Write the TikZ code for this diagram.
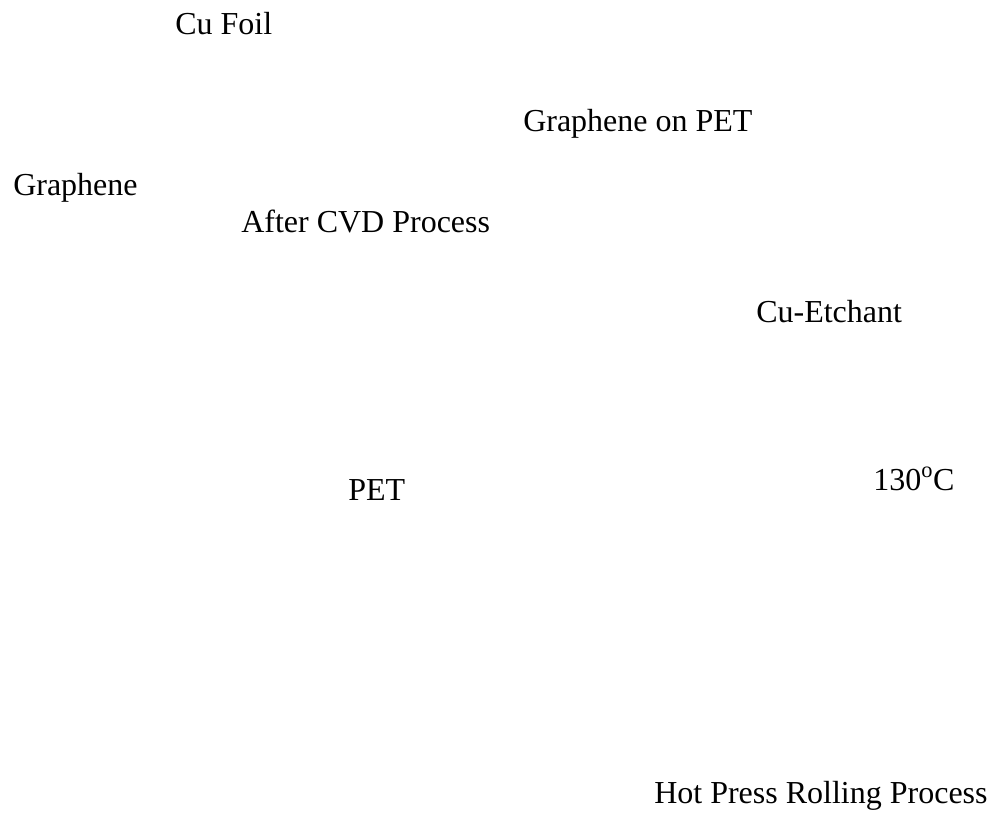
\documentclass[tikz,border=0pt]{standalone}
\usepackage{fontspec}
\setmainfont{Liberation Serif}
\usepackage{tikz}
\tikzstyle{lbl} = [anchor=base west, inner sep=0pt, font=\fontsize{24}{28}\selectfont]

\begin{document}
\begin{tikzpicture}[x=0.75pt,y=-0.75pt]
\useasboundingbox (0,0) rectangle (997,813);
\node [lbl] (cu-foil) at (175,35) {Cu Foil};
\node [lbl] (graphene-on-pet) at (523,132) {Graphene on PET};
\node [lbl] (graphene) at (13,196) {Graphene};
\node [lbl] (after-cvd) at (241,233) {After CVD Process};
\node [lbl] (cu-etchant) at (756,322) {Cu-Etchant};
\node [lbl] (temp) at (873,490) {130\textsuperscript{o}C};
\node [lbl] (pet) at (348,500) {PET};
\node [lbl] (hot-press) at (654,803) {Hot Press Rolling Process};
\end{tikzpicture}
\end{document}
